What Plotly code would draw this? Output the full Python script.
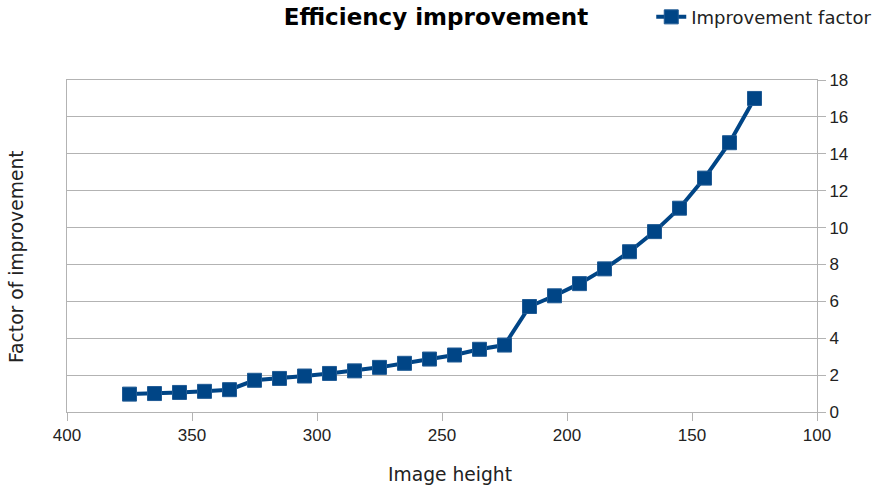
import plotly.graph_objects as go

image_height = [375, 365, 355, 345, 335, 325, 315, 305, 295, 285, 275, 265, 255,
                245, 235, 225, 215, 205, 195, 185, 175, 165, 155, 145, 135, 125]
improvement = [0.97, 1.0, 1.06, 1.12, 1.21, 1.72, 1.82, 1.95, 2.09, 2.23, 2.42, 2.64, 2.87,
               3.09, 3.40, 3.63, 5.72, 6.30, 6.96, 7.76, 8.69, 9.78, 11.05, 12.68, 14.6, 17.0]
x_ticks = [400, 350, 300, 250, 200, 150, 100]
y_ticks = [0, 2, 4, 6, 8, 10, 12, 14, 16, 18]

blue = "#004586"
grid = "#b3b3b3"
tick_font = dict(family="Liberation Sans", size=17, color="#222222")
label_font = dict(family="DejaVu Sans", size=18.7, color="#222222")

fig = go.Figure()
fig.add_trace(go.Scatter(
    x=image_height, y=improvement, mode="lines+markers", name="Improvement factor",
    line=dict(color=blue, width=4),
    marker=dict(symbol="square", size=14, color=blue, line=dict(color="#1f5a94", width=1)),
))

fig.update_layout(
    width=872, height=488,
    margin=dict(l=67, r=55, t=80, b=76, autoexpand=False),
    paper_bgcolor="white", plot_bgcolor="white",
    title=dict(text="<b>Efficiency improvement</b>", x=0.5, xref="container", xanchor="center",
               y=1 - 17 / 488, yref="container", yanchor="middle",
               font=dict(family="DejaVu Sans", size=23, color="black")),
    showlegend=True,
    legend=dict(x=0.779, xanchor="left", y=1.245, yanchor="top", bgcolor="rgba(0,0,0,0)",
                font=dict(family="DejaVu Sans", size=18, color="#222222"),
                itemwidth=30),
    xaxis=dict(range=[400, 100], tickvals=x_ticks, ticktext=[str(v) for v in x_ticks],
               showgrid=False, zeroline=False, showline=True, linecolor=grid, linewidth=1,
               mirror=True, ticks="outside", ticklen=8, tickcolor=grid, tickfont=tick_font),
    yaxis=dict(range=[0, 18], side="right", tickvals=y_ticks, showgrid=True, gridcolor=grid,
               gridwidth=1, zeroline=False, showline=True, linecolor=grid, linewidth=1,
               mirror=True, ticks="outside", ticklen=8, tickcolor=grid, tickfont=tick_font),
    annotations=[
        dict(text="Factor of improvement", xref="paper", yref="paper", x=-0.0667, y=0.47,
             textangle=-90, showarrow=False, xanchor="center", yanchor="middle", font=label_font),
        dict(text="Image height", xref="paper", yref="paper", x=0.511, y=-0.187,
             showarrow=False, xanchor="center", yanchor="middle", font=label_font),
    ],
)

fig.write_html("out.html", config={"displayModeBar": False},
               post_script="document.body.style.margin='0';")
